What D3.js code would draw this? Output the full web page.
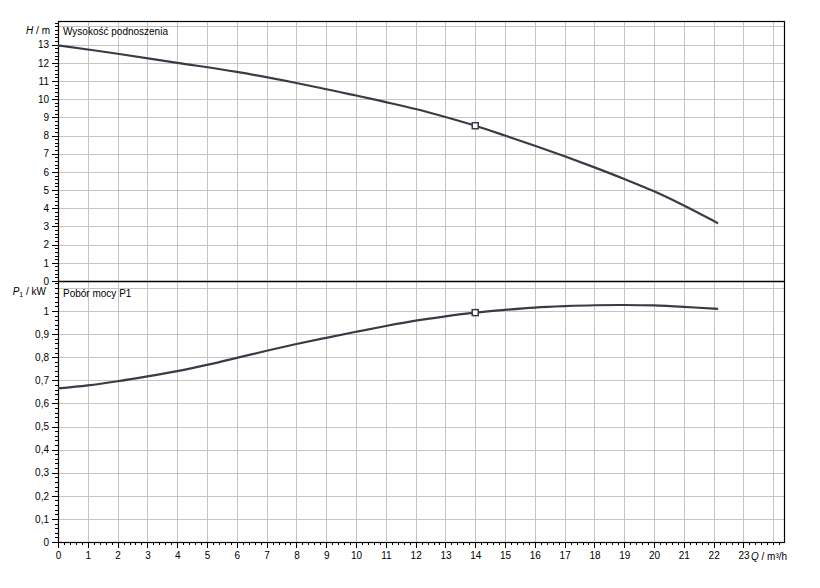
<!doctype html>
<html>
<head>
<meta charset="utf-8">
<style>
body { margin:0; background:#fff; }
svg text { font-family:"Liberation Sans", Arial, sans-serif; font-size:10px; fill:#000; }
.grid line { stroke:#c4c4c4; stroke-width:1; shape-rendering:crispEdges; }
.axis path { display:none; }
.axis line { stroke:#000; shape-rendering:crispEdges; }
</style>
<script src="https://d3js.org/d3.v7.min.js"></script>
</head>
<body>
<script>

// flow rate Q [m3/h]
var qH = [0, 2, 4, 6, 8, 10, 11, 12, 13, 14, 15, 16, 17, 18, 19, 20, 21, 22, 22.15];
// head H [m]
var headH = [12.96, 12.5, 12.0, 11.5, 10.89, 10.2, 9.84, 9.46, 9.02, 8.54, 8.0, 7.44, 6.86, 6.25, 5.61, 4.93, 4.15, 3.3, 3.17];

var qP = [0, 1, 2, 3, 4, 5, 6, 7, 8, 9, 10, 11, 12, 13, 14, 15, 16, 17, 18, 19, 20, 21, 22, 22.15];
// power input P1 [kW]
var powerP = [0.665, 0.678, 0.696, 0.717, 0.74, 0.767, 0.797, 0.828, 0.857, 0.884, 0.91, 0.935, 0.958, 0.977, 0.993, 1.005, 1.015, 1.021, 1.025, 1.026, 1.024, 1.018, 1.01, 1.009];

// duty point
var dutyQ = 14, dutyH = 8.54, dutyP = 0.993;

var xTicks = d3.range(0, 24);          // labelled 0..23
var xGrid = d3.range(0, 25);
var hTicks = d3.range(0, 14);
var hGrid = d3.range(0, 15);
var pTicks = d3.range(0, 11).map(function(d){ return d / 10; });
var pGrid = d3.range(0, 12).map(function(d){ return d / 10; });

var W = 820, H = 588;
var pLeft = 58, pRight = 784, pTop = 21, pMid = 281, pBottom = 542;

var svg = d3.select("body").append("svg").attr("width", W).attr("height", H);

var x = d3.scaleLinear().domain([0, 24.36]).range([pLeft, pRight]);
var yH = d3.scaleLinear().domain([0, 14.3]).range([pMid, pTop]);
var yP = d3.scaleLinear().domain([0, 1.1299]).range([pBottom, pMid]);

// grid
var grid = svg.append("g").attr("class", "grid");
grid.selectAll(".vx").data(xGrid).enter().append("line")
  .attr("x1", function(d){ return Math.round(x(d)) + 0.5; })
  .attr("x2", function(d){ return Math.round(x(d)) + 0.5; })
  .attr("y1", pTop).attr("y2", pBottom);
grid.selectAll(".hh").data(hGrid).enter().append("line")
  .attr("x1", pLeft).attr("x2", pRight)
  .attr("y1", function(d){ return Math.round(yH(d)) + 0.5; })
  .attr("y2", function(d){ return Math.round(yH(d)) + 0.5; });
grid.selectAll(".hp").data(pGrid).enter().append("line")
  .attr("x1", pLeft).attr("x2", pRight)
  .attr("y1", function(d){ return Math.round(yP(d)) + 0.5; })
  .attr("y2", function(d){ return Math.round(yP(d)) + 0.5; });

// frame and the zero line of the head panel
svg.append("rect").attr("x", pLeft + 0.5).attr("y", pTop + 0.5)
  .attr("width", pRight - pLeft).attr("height", pBottom - pTop)
  .attr("fill", "none").attr("stroke", "#000").attr("stroke-width", 1.2);
svg.append("line").attr("x1", pLeft).attr("x2", pRight)
  .attr("y1", pMid + 0.5).attr("y2", pMid + 0.5)
  .attr("stroke", "#000").attr("stroke-width", 1.4);

// minor ticks
function minor(axis, vals, g) {
  svg.append("g").attr("class", "axis").attr("transform", g)
    .call(axis.tickValues(vals).tickSize(3).tickFormat(""));
}
minor(d3.axisBottom(x), d3.range(0, 122).map(function(d){ return d / 5; }), "translate(0," + pBottom + ")");
minor(d3.axisLeft(yH), d3.range(0, 72).map(function(d){ return d / 5; }), "translate(" + pLeft + ",0)");
minor(d3.axisLeft(yP), d3.range(1, 57).map(function(d){ return d / 50; }), "translate(" + pLeft + ",0)");

// major axes
svg.append("g").attr("class", "axis").attr("transform", "translate(0," + pBottom + ")")
  .call(d3.axisBottom(x).tickValues(xTicks).tickSize(6).tickPadding(4).tickFormat(d3.format("d")));
svg.append("g").attr("class", "axis").attr("transform", "translate(" + pLeft + ",0)")
  .call(d3.axisLeft(yH).tickValues(hTicks).tickSize(6).tickPadding(3).tickFormat(d3.format("d")));
svg.append("g").attr("class", "axis").attr("transform", "translate(" + pLeft + ",0)")
  .call(d3.axisLeft(yP).tickValues(pTicks).tickSize(6).tickPadding(3)
    .tickFormat(function(d){ return String(+d.toFixed(1)).replace(".", ","); }));
svg.selectAll(".axis text").style("font-family", "Liberation Sans, Arial, sans-serif").style("font-size", "10px");

// curves
var lineH = d3.line().x(function(d, i){ return x(qH[i]); }).y(function(d){ return yH(d); }).curve(d3.curveCatmullRom);
var lineP = d3.line().x(function(d, i){ return x(qP[i]); }).y(function(d){ return yP(d); }).curve(d3.curveCatmullRom);
var curveColor = "#363d47";
svg.append("path").attr("d", lineH(headH)).attr("fill", "none").attr("stroke", curveColor).attr("stroke-width", 2.2);
svg.append("path").attr("d", lineP(powerP)).attr("fill", "none").attr("stroke", curveColor).attr("stroke-width", 2.2);

// duty point markers
[[x(dutyQ), yH(dutyH)], [x(dutyQ), yP(dutyP)]].forEach(function(p){
  svg.append("rect").attr("x", p[0] - 3).attr("y", p[1] - 3).attr("width", 6).attr("height", 6)
    .attr("fill", "#fff").attr("stroke", curveColor).attr("stroke-width", 1.5);
});

// labels
svg.append("text").attr("x", 63).attr("y", 35).text("Wysokość podnoszenia");
svg.append("text").attr("x", 63).attr("y", 297).text("Pobór mocy P1");

var tH = svg.append("text").attr("x", 50).attr("y", 34).attr("text-anchor", "end");
tH.append("tspan").attr("font-style", "italic").text("H");
tH.append("tspan").text(" / m");

var tP = svg.append("text").attr("x", 46).attr("y", 295).attr("text-anchor", "end");
tP.append("tspan").attr("font-style", "italic").text("P");
tP.append("tspan").attr("font-size", "7px").attr("dy", 2).text("1");
tP.append("tspan").attr("dy", -2).text(" / kW");

var tQ = svg.append("text").attr("x", 751).attr("y", 560);
tQ.append("tspan").attr("font-style", "italic").text("Q");
tQ.append("tspan").text(" / m³/h");

</script>
</body>
</html>
